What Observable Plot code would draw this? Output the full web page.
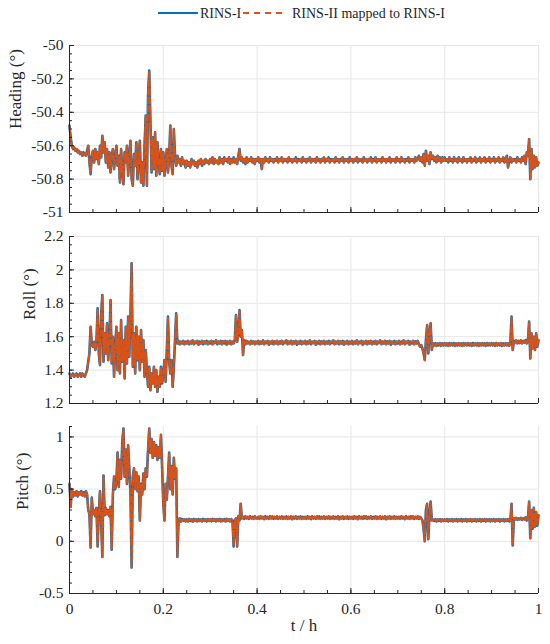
<!DOCTYPE html>
<html>
<head>
<meta charset="utf-8">
<script src="https://cdn.jsdelivr.net/npm/d3@7"></script>
<script src="https://cdn.jsdelivr.net/npm/@observablehq/plot@0.6"></script>
<style>
  body { margin: 0; background: #fff; font-family: "Liberation Serif", "Times New Roman", serif; }
  #chart { width: 550px; }
  svg { display: block; }
</style>
</head>
<body>
<div id="chart"></div>
<script>
// sampling interval of the series (hours)
const tStep = 0.0025;

// Heading (°), RINS-I  (one row = 0.05 h)
const headingRINS1 = [
  -50.48, -50.55, -50.60, -50.62, -50.61, -50.63, -50.62, -50.64, -50.63, -50.65, -50.64, -50.66, -50.64, -50.65, -50.66, -50.63, -50.60, -50.70, -50.77, -50.66,
  -50.63, -50.70, -50.62, -50.68, -50.64, -50.71, -50.60, -50.67, -50.54, -50.64, -50.58, -50.70, -50.62, -50.73, -50.64, -50.76, -50.66, -50.62, -50.74, -50.67,
  -50.60, -50.72, -50.66, -50.82, -50.62, -50.76, -50.83, -50.64, -50.70, -50.60, -50.78, -50.66, -50.57, -50.80, -50.84, -50.65, -50.72, -50.58, -50.80, -50.68,
  -50.57, -50.82, -50.70, -50.84, -50.60, -50.42, -50.84, -50.30, -50.15, -50.45, -50.76, -50.55, -50.74, -50.52, -50.78, -50.58, -50.70, -50.77, -50.62, -50.75,
  -50.64, -50.78, -50.70, -50.62, -50.76, -50.66, -50.48, -50.72, -50.77, -50.50, -50.66, -50.72, -50.66, -50.70, -50.68, -50.72, -50.67, -50.71, -50.69, -50.73,
  -50.69, -50.72, -50.70, -50.73, -50.68, -50.71, -50.69, -50.72, -50.70, -50.73, -50.69, -50.71, -50.68, -50.72, -50.69, -50.71, -50.68, -50.70, -50.69, -50.71,
  -50.68, -50.70, -50.67, -50.71, -50.68, -50.70, -50.69, -50.71, -50.67, -50.70, -50.68, -50.71, -50.67, -50.69, -50.68, -50.70, -50.67, -50.71, -50.68, -50.70,
  -50.67, -50.70, -50.68, -50.71, -50.66, -50.62, -50.69, -50.67, -50.70, -50.68, -50.71, -50.67, -50.70, -50.68, -50.69, -50.67, -50.70, -50.68, -50.71, -50.68,
  -50.69, -50.67, -50.70, -50.68, -50.74, -50.68, -50.70, -50.67, -50.69, -50.68, -50.70, -50.67, -50.69, -50.68, -50.70, -50.68, -50.69, -50.67, -50.70, -50.68,
  -50.69, -50.67, -50.70, -50.68, -50.69, -50.68, -50.70, -50.67, -50.69, -50.68, -50.70, -50.68, -50.69, -50.67, -50.70, -50.68, -50.69, -50.68, -50.70, -50.67,
  -50.69, -50.68, -50.70, -50.68, -50.69, -50.67, -50.70, -50.68, -50.69, -50.68, -50.70, -50.67, -50.69, -50.68, -50.70, -50.68, -50.69, -50.67, -50.70, -50.68,
  -50.69, -50.67, -50.70, -50.68, -50.69, -50.68, -50.70, -50.67, -50.69, -50.68, -50.70, -50.68, -50.69, -50.67, -50.70, -50.68, -50.69, -50.68, -50.70, -50.67,
  -50.69, -50.68, -50.70, -50.68, -50.69, -50.67, -50.70, -50.68, -50.69, -50.68, -50.70, -50.67, -50.69, -50.68, -50.70, -50.68, -50.69, -50.67, -50.70, -50.68,
  -50.69, -50.67, -50.70, -50.68, -50.69, -50.68, -50.70, -50.67, -50.69, -50.68, -50.70, -50.68, -50.69, -50.67, -50.70, -50.68, -50.69, -50.68, -50.70, -50.67,
  -50.69, -50.68, -50.70, -50.67, -50.69, -50.68, -50.70, -50.68, -50.69, -50.67, -50.70, -50.68, -50.69, -50.68, -50.70, -50.67, -50.69, -50.68, -50.66, -50.69,
  -50.67, -50.70, -50.65, -50.72, -50.63, -50.69, -50.66, -50.71, -50.64, -50.68, -50.66, -50.69, -50.67, -50.70, -50.66, -50.69, -50.67, -50.70, -50.67, -50.69,
  -50.67, -50.69, -50.68, -50.70, -50.67, -50.69, -50.68, -50.70, -50.67, -50.69, -50.68, -50.70, -50.67, -50.69, -50.68, -50.70, -50.67, -50.69, -50.68, -50.70,
  -50.68, -50.69, -50.67, -50.70, -50.68, -50.69, -50.67, -50.70, -50.68, -50.69, -50.67, -50.70, -50.68, -50.69, -50.67, -50.70, -50.68, -50.69, -50.67, -50.70,
  -50.68, -50.69, -50.67, -50.70, -50.68, -50.69, -50.67, -50.70, -50.68, -50.69, -50.67, -50.70, -50.68, -50.66, -50.73, -50.69, -50.67, -50.70, -50.68, -50.69,
  -50.68, -50.70, -50.67, -50.69, -50.68, -50.70, -50.67, -50.69, -50.66, -50.71, -50.64, -50.66, -50.56, -50.80, -50.62, -50.74, -50.66, -50.73, -50.67, -50.72,
  -50.70
];

// Roll (°), RINS-I
const rollRINS1 = [
  1.38, 1.36, 1.37, 1.38, 1.36, 1.37, 1.38, 1.36, 1.37, 1.38, 1.36, 1.38, 1.37, 1.36, 1.38, 1.40, 1.45, 1.50, 1.66, 1.55,
  1.54, 1.57, 1.52, 1.58, 1.77, 1.50, 1.43, 1.73, 1.85, 1.45, 1.62, 1.50, 1.68, 1.46, 1.58, 1.82, 1.44, 1.60, 1.36, 1.55,
  1.66, 1.40, 1.62, 1.38, 1.70, 1.45, 1.58, 1.35, 1.66, 1.44, 1.72, 1.48, 1.74, 2.04, 1.42, 1.62, 1.38, 1.66, 1.46, 1.60,
  1.40, 1.64, 1.45, 1.58, 1.36, 1.52, 1.40, 1.30, 1.42, 1.28, 1.38, 1.32, 1.42, 1.30, 1.40, 1.27, 1.36, 1.30, 1.42, 1.32,
  1.38, 1.46, 1.33, 1.52, 1.72, 1.45, 1.38, 1.46, 1.30, 1.42, 1.58, 1.74, 1.56, 1.575, 1.555, 1.57, 1.56, 1.575, 1.555, 1.57,
  1.56, 1.575, 1.555, 1.57, 1.56, 1.578, 1.555, 1.57, 1.562, 1.575, 1.552, 1.57, 1.56, 1.575, 1.555, 1.572, 1.56, 1.575, 1.555, 1.57,
  1.56, 1.575, 1.555, 1.57, 1.562, 1.578, 1.555, 1.57, 1.56, 1.575, 1.555, 1.572, 1.56, 1.575, 1.552, 1.57, 1.56, 1.575, 1.555, 1.57,
  1.56, 1.58, 1.73, 1.57, 1.62, 1.76, 1.60, 1.64, 1.49, 1.58, 1.555, 1.575, 1.56, 1.57, 1.555, 1.575, 1.56, 1.572, 1.555, 1.57,
  1.56, 1.575, 1.555, 1.57, 1.56, 1.578, 1.555, 1.57, 1.562, 1.575, 1.552, 1.57, 1.56, 1.575, 1.555, 1.572, 1.56, 1.575, 1.555, 1.57,
  1.56, 1.575, 1.555, 1.57, 1.562, 1.578, 1.555, 1.57, 1.56, 1.575, 1.555, 1.572, 1.56, 1.575, 1.552, 1.57, 1.56, 1.575, 1.555, 1.57,
  1.56, 1.575, 1.555, 1.57, 1.56, 1.578, 1.555, 1.57, 1.562, 1.575, 1.552, 1.57, 1.56, 1.575, 1.555, 1.572, 1.56, 1.575, 1.555, 1.57,
  1.56, 1.575, 1.555, 1.57, 1.562, 1.578, 1.555, 1.57, 1.56, 1.575, 1.555, 1.572, 1.56, 1.575, 1.552, 1.57, 1.56, 1.575, 1.555, 1.57,
  1.56, 1.575, 1.555, 1.57, 1.56, 1.578, 1.555, 1.57, 1.562, 1.575, 1.552, 1.57, 1.56, 1.575, 1.555, 1.572, 1.56, 1.575, 1.555, 1.57,
  1.56, 1.575, 1.555, 1.57, 1.562, 1.578, 1.555, 1.57, 1.56, 1.575, 1.555, 1.572, 1.56, 1.575, 1.552, 1.57, 1.56, 1.575, 1.555, 1.57,
  1.56, 1.575, 1.555, 1.57, 1.56, 1.578, 1.555, 1.57, 1.562, 1.575, 1.552, 1.57, 1.56, 1.575, 1.555, 1.572, 1.56, 1.575, 1.555, 1.54,
  1.55, 1.53, 1.50, 1.46, 1.58, 1.67, 1.50, 1.62, 1.68, 1.52, 1.56, 1.548, 1.562, 1.545, 1.56, 1.548, 1.562, 1.545, 1.56, 1.548,
  1.562, 1.548, 1.56, 1.545, 1.562, 1.548, 1.56, 1.548, 1.562, 1.545, 1.56, 1.548, 1.562, 1.548, 1.56, 1.545, 1.562, 1.548, 1.56, 1.548,
  1.562, 1.548, 1.56, 1.545, 1.562, 1.548, 1.56, 1.548, 1.562, 1.545, 1.56, 1.548, 1.562, 1.548, 1.56, 1.545, 1.562, 1.548, 1.56, 1.548,
  1.562, 1.548, 1.56, 1.545, 1.562, 1.548, 1.56, 1.548, 1.562, 1.545, 1.56, 1.548, 1.562, 1.548, 1.56, 1.545, 1.56, 1.72, 1.52, 1.575,
  1.565, 1.578, 1.56, 1.575, 1.562, 1.578, 1.56, 1.575, 1.565, 1.58, 1.56, 1.575, 1.69, 1.47, 1.62, 1.53, 1.60, 1.52, 1.62, 1.54,
  1.58
];

// Pitch (°), RINS-I
const pitchRINS1 = [
  0.55, 0.33, 0.50, 0.43, 0.47, 0.44, 0.48, 0.43, 0.47, 0.45, 0.48, 0.44, 0.47, 0.43, 0.48, 0.45, 0.30, 0.26, -0.06, 0.42,
  0.26, 0.30, 0.24, 0.32, -0.05, 0.28, 0.48, 0.20, -0.15, 0.63, 0.25, 0.32, 0.26, 0.30, 0.24, 0.33, -0.08, 0.45, 0.62, 0.50,
  0.58, 0.85, 0.52, 0.78, 0.60, 0.95, 1.08, 0.62, 0.88, 0.55, 0.92, 0.70, 0.45, -0.25, 0.62, 0.70, 0.50, 0.66, 0.48, 0.62,
  0.20, 0.55, 0.45, 0.65, 0.50, 0.70, 0.62, 0.88, 1.08, 0.85, 0.98, 0.80, 0.95, 0.82, 0.92, 0.78, 0.90, 0.80, 1.02, 0.70,
  0.35, 0.20, 0.55, 0.40, 0.62, 0.85, 0.50, 0.72, 0.45, 0.80, 0.60, 0.70, -0.15, 0.20, 0.22, 0.19, 0.215, 0.195, 0.21, 0.19,
  0.21, 0.19, 0.215, 0.195, 0.21, 0.188, 0.215, 0.195, 0.21, 0.19, 0.212, 0.195, 0.21, 0.19, 0.215, 0.195, 0.21, 0.19, 0.212, 0.195,
  0.21, 0.19, 0.215, 0.195, 0.21, 0.19, 0.212, 0.195, 0.215, 0.19, 0.21, 0.195, 0.212, 0.19, 0.215, 0.195, 0.21, 0.19, 0.212, 0.20,
  -0.05, 0.20, 0.22, -0.05, 0.24, 0.20, 0.36, 0.22, 0.235, 0.215, 0.24, 0.22, 0.235, 0.215, 0.24, 0.22, 0.235, 0.215, 0.24, 0.22,
  0.22, 0.235, 0.215, 0.24, 0.22, 0.235, 0.212, 0.24, 0.22, 0.235, 0.215, 0.24, 0.22, 0.238, 0.215, 0.235, 0.22, 0.24, 0.215, 0.235,
  0.22, 0.24, 0.215, 0.235, 0.22, 0.238, 0.215, 0.235, 0.22, 0.24, 0.212, 0.235, 0.22, 0.24, 0.215, 0.235, 0.22, 0.238, 0.215, 0.235,
  0.22, 0.235, 0.215, 0.24, 0.22, 0.235, 0.212, 0.24, 0.22, 0.235, 0.215, 0.24, 0.22, 0.238, 0.215, 0.235, 0.22, 0.24, 0.215, 0.235,
  0.22, 0.24, 0.215, 0.235, 0.22, 0.238, 0.215, 0.235, 0.22, 0.24, 0.212, 0.235, 0.22, 0.24, 0.215, 0.235, 0.22, 0.238, 0.215, 0.235,
  0.22, 0.235, 0.215, 0.24, 0.22, 0.235, 0.212, 0.24, 0.22, 0.235, 0.215, 0.24, 0.22, 0.238, 0.215, 0.235, 0.22, 0.24, 0.215, 0.235,
  0.22, 0.24, 0.215, 0.235, 0.22, 0.238, 0.215, 0.235, 0.22, 0.24, 0.212, 0.235, 0.22, 0.24, 0.215, 0.235, 0.22, 0.238, 0.215, 0.235,
  0.22, 0.235, 0.215, 0.24, 0.22, 0.235, 0.212, 0.24, 0.22, 0.235, 0.215, 0.24, 0.22, 0.238, 0.215, 0.235, 0.22, 0.24, 0.215, 0.235,
  0.22, 0.20, 0.12, 0.00, 0.30, 0.36, 0.02, 0.25, 0.38, 0.20, 0.21, 0.195, 0.212, 0.19, 0.21, 0.195, 0.212, 0.19, 0.21, 0.195,
  0.21, 0.195, 0.212, 0.19, 0.21, 0.195, 0.212, 0.19, 0.21, 0.195, 0.212, 0.19, 0.21, 0.195, 0.212, 0.19, 0.21, 0.195, 0.212, 0.19,
  0.21, 0.195, 0.212, 0.19, 0.21, 0.195, 0.212, 0.19, 0.21, 0.195, 0.212, 0.19, 0.21, 0.195, 0.212, 0.19, 0.21, 0.195, 0.212, 0.19,
  0.21, 0.195, 0.212, 0.19, 0.21, 0.195, 0.212, 0.19, 0.21, 0.195, 0.212, 0.19, 0.21, 0.195, 0.212, 0.19, 0.20, 0.36, -0.04, 0.22,
  0.21, 0.225, 0.205, 0.22, 0.21, 0.225, 0.205, 0.22, 0.21, 0.23, 0.20, 0.22, 0.38, 0.03, 0.30, 0.12, 0.32, 0.14, 0.28, 0.15,
  0.25
];

// RINS-II mapped to RINS-I (overlaps RINS-I at this scale)
const headingRINS2 = headingRINS1;
const rollRINS2 = rollRINS1;
const pitchRINS2 = pitchRINS1;

// tick values
const xTicks = [0, 0.2, 0.4, 0.6, 0.8, 1];
const headingTicks = [-51, -50.8, -50.6, -50.4, -50.2, -50];
const rollTicks = [1.2, 1.4, 1.6, 1.8, 2, 2.2];
const pitchTicks = [-0.5, 0, 0.5, 1];

const seriesNames = ["RINS-I", "RINS-II mapped to RINS-I"];
const blue = "#0072BD";
const orange = "#D95319";
const axisColor = "#262626";
const gridColor = "#e6e6e6";

const time = d3.range(headingRINS1.length).map(i => i * tStep);
const xMinor = d3.range(0, 21).map(i => i * 0.05);

const W = 550, ML = 69, MR = 12, innerH = 167;
const innerW = W - ML - MR;

function panel(o) {
  const height = o.marginTop + innerH + o.marginBottom;
  const d1 = time.map((t, i) => ({t, v: o.s1[i]}));
  const d2 = time.map((t, i) => ({t, v: o.s2[i]}));
  const marks = [
    Plot.gridX(xTicks, {stroke: gridColor, strokeOpacity: 1, strokeWidth: 1}),
    Plot.gridY(o.yTicks, {stroke: gridColor, strokeOpacity: 1, strokeWidth: 1}),
    Plot.line(d1, {x: "t", y: "v", stroke: blue, strokeWidth: 2.6}),
    Plot.line(d2, {x: "t", y: "v", stroke: orange, strokeWidth: 2, strokeDasharray: "6,2.5"}),
    Plot.tickX(xMinor, {x: d => d, stroke: axisColor, insetTop: innerH - 3}),
    Plot.tickX(xTicks, {x: d => d, stroke: axisColor, insetTop: innerH - 5}),
    Plot.tickY(o.yMinor, {y: d => d, stroke: axisColor, insetRight: innerW - 3}),
    Plot.tickY(o.yTicks, {y: d => d, stroke: axisColor, insetRight: innerW - 5}),
    Plot.ruleX([0], {stroke: axisColor, strokeWidth: 1}),
    Plot.ruleY([o.yDomain[0]], {stroke: axisColor, strokeWidth: 1}),
    Plot.axisY(o.yTicks, {tickSize: 0, tickPadding: 6, fontSize: 15.5, tickFormat: d => String(d), label: null, fill: axisColor}),
    Plot.text([o.label], {text: d => d, frameAnchor: "left", dx: o.labelX - ML, rotate: -90, fontSize: 17, fill: axisColor})
  ];
  if (o.showX) {
    marks.push(Plot.axisX(xTicks, {tickSize: 0, tickPadding: 9, fontSize: 15.5, tickFormat: d => String(d), label: null, fill: axisColor}));
    marks.push(Plot.text(["t / h"], {text: d => d, frameAnchor: "bottom", dy: 37, fontSize: 17, fill: axisColor}));
  }
  return Plot.plot({
    width: W, height,
    marginLeft: ML, marginRight: MR, marginTop: o.marginTop, marginBottom: o.marginBottom,
    style: {fontFamily: "'Liberation Serif', 'Times New Roman', serif", background: "#fff", color: axisColor, overflow: "visible"},
    x: o.showX ? {domain: [0, 1]} : {domain: [0, 1], axis: null},
    y: {domain: o.yDomain},
    marks
  });
}

// legend
const legend = d3.create("svg").attr("width", W).attr("height", 26)
  .style("font-family", "'Liberation Serif', 'Times New Roman', serif");
legend.append("line").attr("x1", 158).attr("x2", 198).attr("y1", 13).attr("y2", 13)
  .attr("stroke", blue).attr("stroke-width", 2);
legend.append("text").attr("x", 200).attr("y", 13).attr("dy", "0.35em")
  .attr("font-size", 14).attr("fill", axisColor).text(seriesNames[0]);
legend.append("line").attr("x1", 243).attr("x2", 287).attr("y1", 13).attr("y2", 13)
  .attr("stroke", orange).attr("stroke-width", 2).attr("stroke-dasharray", "6,5");
legend.append("text").attr("x", 292).attr("y", 13).attr("dy", "0.35em")
  .attr("font-size", 14).attr("fill", axisColor).text(seriesNames[1]);

const chart = document.getElementById("chart");
chart.append(legend.node());

chart.append(panel({
  s1: headingRINS1, s2: headingRINS2, yDomain: [-51, -50], yTicks: headingTicks,
  yMinor: d3.range(0, 21).map(i => -51 + i * 0.05),
  label: "Heading (°)", labelX: 15, marginTop: 19, marginBottom: 12, showX: false
}));
chart.append(panel({
  s1: rollRINS1, s2: rollRINS2, yDomain: [1.2, 2.2], yTicks: rollTicks,
  yMinor: d3.range(0, 21).map(i => 1.2 + i * 0.05),
  label: "Roll (°)", labelX: 29.5, marginTop: 12, marginBottom: 12, showX: false
}));
chart.append(panel({
  s1: pitchRINS1, s2: pitchRINS2, yDomain: [-0.5, 1.1], yTicks: pitchTicks,
  yMinor: d3.range(0, 17).map(i => -0.5 + i * 0.1),
  label: "Pitch (°)", labelX: 22, marginTop: 11, marginBottom: 51, showX: true
}));
</script>
</body>
</html>
